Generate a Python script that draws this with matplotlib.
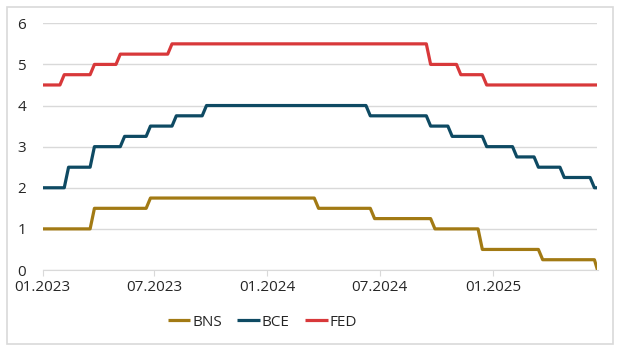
import numpy as np
import pandas as pd
import matplotlib
matplotlib.use("Agg")
import matplotlib.pyplot as plt
import matplotlib.dates as mdates
from matplotlib.patches import Rectangle

# decisiones de tasas (fecha efectiva, tasa)
bns_fechas = ["2023-01-01", "2023-03-23", "2023-06-22", "2024-03-21", "2024-06-20",
              "2024-09-26", "2024-12-12", "2025-03-20", "2025-06-19"]
bns_tasas = [1.0, 1.5, 1.75, 1.5, 1.25, 1.0, 0.5, 0.25, 0.0]

bce_fechas = ["2023-01-01", "2023-02-08", "2023-03-22", "2023-05-10", "2023-06-21",
              "2023-08-02", "2023-09-20", "2024-06-12", "2024-09-18", "2024-10-23",
              "2024-12-18", "2025-02-05", "2025-03-12", "2025-04-23", "2025-06-11"]
bce_tasas = [2.0, 2.5, 3.0, 3.25, 3.5, 3.75, 4.0, 3.75, 3.5, 3.25, 3.0, 2.75, 2.5, 2.25, 2.0]

fed_fechas = ["2023-01-01", "2023-02-01", "2023-03-22", "2023-05-03", "2023-07-26",
              "2024-09-18", "2024-11-07", "2024-12-18"]
fed_tasas = [4.5, 4.75, 5.0, 5.25, 5.5, 5.0, 4.75, 4.5]

series = ["BNS", "BCE", "FED"]
colores = ["#A27A14", "#0E4A63", "#D8383A"]
ticks_x = ["2023-01-01", "2023-07-01", "2024-01-01", "2024-07-01", "2025-01-01"]

inicio = pd.Timestamp("2023-01-01")
fin = pd.Timestamp("2025-06-20")

# muestreo semanal (la serie original es semanal)
semanas = pd.date_range(inicio, fin, freq="7D").append(pd.DatetimeIndex([fin]))


def semanal(fechas, tasas):
    f = pd.to_datetime(fechas).values
    idx = np.searchsorted(f, semanas.values, side="right") - 1
    return np.array(tasas)[idx]


datos = [semanal(bns_fechas, bns_tasas), semanal(bce_fechas, bce_tasas),
         semanal(fed_fechas, fed_tasas)]

plt.rcParams["font.family"] = ["Open Sans", "DejaVu Sans"]

fig = plt.figure(figsize=(6.22, 3.55), dpi=100)
fig.patches.append(Rectangle((7 / 622, 1 - 344 / 355), 606 / 622, 337 / 355,
                             transform=fig.transFigure, fill=False,
                             edgecolor="#D9D9D9", linewidth=1.2))

ax = fig.add_axes([42.7 / 622, 1 - 270 / 355, 554.8 / 622, 246.7 / 355])

for nombre, valores, color in zip(series, datos, colores):
    ax.plot(semanas, valores, color=color, linewidth=2.3, label=nombre,
            solid_capstyle="butt")

ax.set_ylim(0, 6)
ax.set_xlim(inicio, fin)
ax.set_yticks(range(0, 7))
ax.set_xticks(pd.to_datetime(ticks_x))
ax.xaxis.set_major_formatter(mdates.DateFormatter("%m.%Y"))

ax.grid(axis="y", color="#D9D9D9", linewidth=1)
ax.set_axisbelow(True)
for lado in ["top", "right", "left"]:
    ax.spines[lado].set_visible(False)
ax.spines["bottom"].set_color("#D9D9D9")
ax.tick_params(axis="y", length=0, pad=12, labelsize=11, labelcolor="#262626")
ax.tick_params(axis="x", length=4, color="#D9D9D9", pad=3, labelsize=11,
               labelcolor="#262626")

fig.legend(loc="center", bbox_to_anchor=(262 / 622, 1 - 322 / 355), ncol=3,
           frameon=False, fontsize=11, handlelength=1.5, handletextpad=0.1,
           columnspacing=1.0, labelcolor="#262626")

fig.savefig("out.png", dpi=100)
